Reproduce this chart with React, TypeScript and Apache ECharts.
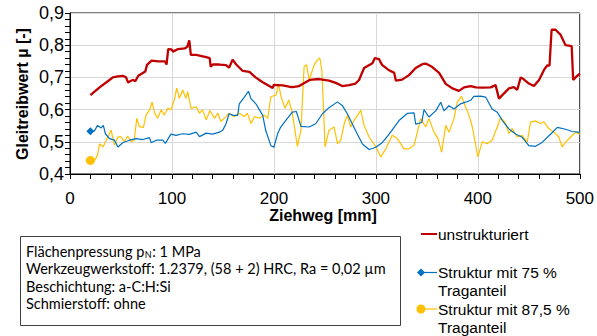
import React, { useEffect, useRef } from "react";
import * as echarts from "echarts";

const X_TICKS = [0, 100, 200, 300, 400, 500];
const Y_TICKS = [0.4, 0.5, 0.6, 0.7, 0.8, 0.9];

const RED_X = [20, 29, 38.7, 42, 47, 51.7, 55, 57, 60, 62, 64, 67, 73.8, 75.5, 80, 86.5, 93, 94.7, 96.3, 99.5, 101, 106, 112.5, 115, 117, 118.5, 123.7, 133.5, 137, 138, 140, 146.5, 153, 156, 159.5, 163, 169.4, 176, 182, 189, 195.5, 198.7, 200, 208.5, 215, 218, 224.7, 235, 244.4, 254, 260.7, 267, 273.7, 280, 283.5, 288.4, 296.6, 299, 303, 306, 313, 318, 319.5, 325.7, 332.5, 339, 345.5, 348.8, 355, 362, 368.5, 375, 381.5, 386.4, 393, 398, 404, 412.5, 417.4, 420.7, 424, 430.5, 435.4, 438.6, 442, 445, 450, 455, 460, 465, 468, 470.3, 472.3, 476.2, 481, 486, 492, 493.5, 495.8, 500];
const RED_Y = [0.645, 0.669, 0.692, 0.7, 0.703, 0.705, 0.7, 0.684, 0.69, 0.692, 0.688, 0.705, 0.718, 0.739, 0.752, 0.75, 0.75, 0.74, 0.788, 0.787, 0.78, 0.788, 0.79, 0.795, 0.815, 0.77, 0.77, 0.763, 0.76, 0.733, 0.74, 0.74, 0.738, 0.73, 0.755, 0.74, 0.72, 0.717, 0.7, 0.685, 0.673, 0.667, 0.677, 0.675, 0.671, 0.67, 0.673, 0.692, 0.695, 0.69, 0.683, 0.673, 0.676, 0.681, 0.692, 0.729, 0.744, 0.76, 0.757, 0.739, 0.722, 0.714, 0.69, 0.693, 0.707, 0.729, 0.741, 0.743, 0.733, 0.714, 0.68, 0.666, 0.658, 0.669, 0.673, 0.669, 0.668, 0.669, 0.676, 0.634, 0.645, 0.666, 0.67, 0.661, 0.7, 0.694, 0.681, 0.673, 0.692, 0.724, 0.737, 0.737, 0.848, 0.848, 0.833, 0.8, 0.797, 0.692, 0.7, 0.712];

const BLUE_X = [20, 24, 27, 30.5, 32.7, 34.7, 38.7, 43.6, 47, 51.7, 58.3, 65, 71.5, 78, 79.6, 84.5, 91, 93.5, 99, 104, 110.5, 117, 123.7, 127, 133.5, 140, 146.5, 150, 153, 156, 160, 164.5, 166, 171, 175, 177.5, 182.3, 189, 192, 197, 200, 203.5, 206.5, 211.5, 218, 222, 226.5, 234.6, 241, 247.6, 254, 262.3, 267, 272, 280, 286.8, 293.3, 300, 306.4, 313, 322.7, 330.8, 337.4, 339, 345, 347.2, 352, 358.7, 363.6, 366.8, 371.7, 376.6, 383, 388, 393, 396, 402.7, 407.6, 414, 419, 424, 430.5, 437, 443.5, 450, 456.6, 463, 473, 478, 486, 492.5, 500];
const BLUE_Y = [0.533, 0.534, 0.551, 0.543, 0.551, 0.525, 0.51, 0.505, 0.484, 0.497, 0.505, 0.51, 0.507, 0.513, 0.497, 0.505, 0.505, 0.495, 0.524, 0.52, 0.525, 0.523, 0.53, 0.516, 0.527, 0.524, 0.53, 0.537, 0.556, 0.587, 0.582, 0.582, 0.618, 0.639, 0.657, 0.634, 0.618, 0.582, 0.535, 0.488, 0.483, 0.524, 0.545, 0.566, 0.592, 0.594, 0.548, 0.546, 0.556, 0.587, 0.606, 0.624, 0.613, 0.587, 0.535, 0.493, 0.476, 0.483, 0.498, 0.524, 0.566, 0.588, 0.59, 0.555, 0.56, 0.6, 0.577, 0.596, 0.623, 0.596, 0.612, 0.602, 0.618, 0.623, 0.629, 0.641, 0.642, 0.639, 0.602, 0.592, 0.566, 0.54, 0.524, 0.514, 0.488, 0.486, 0.498, 0.529, 0.545, 0.539, 0.532, 0.529];

const YEL_X = [20, 24, 27, 29, 32.4, 35.6, 38.7, 40.3, 43.6, 47, 50, 53.4, 56.6, 60, 63, 65.5, 68, 72, 74.6, 78, 80.5, 83, 86, 89.3, 92.6, 96, 99, 102.3, 104.6, 107.3, 110.5, 113.7, 115.4, 118.7, 123.7, 127, 130, 133.5, 137.3, 141.6, 145, 148, 153, 156, 161, 166, 171, 174, 177.5, 180.8, 185.6, 190.5, 193.8, 197, 202, 204.5, 207, 211, 214.5, 218, 223, 226.5, 229.6, 232, 234.6, 239.5, 242.8, 245, 247, 250.2, 254, 259, 262.3, 265.6, 268.9, 272, 275.4, 278.7, 282, 285.2, 288.4, 293.3, 300, 304.8, 309.7, 316, 321, 327.6, 332.5, 337.4, 344, 348.8, 352, 357, 361, 364.5, 368.5, 371.7, 376.6, 379.8, 384, 388, 391.3, 394.6, 397, 400, 404.3, 409.2, 414, 419, 422.3, 426.5, 430.5, 433.7, 438.6, 443.5, 448.4, 451.7, 456.6, 461.5, 464.7, 469.6, 474.5, 479.4, 482.7, 486, 491, 496, 500];
const YEL_Y = [0.442, 0.442, 0.458, 0.494, 0.484, 0.505, 0.526, 0.536, 0.49, 0.515, 0.515, 0.5, 0.518, 0.5, 0.505, 0.573, 0.547, 0.545, 0.583, 0.599, 0.623, 0.589, 0.573, 0.599, 0.583, 0.605, 0.599, 0.63, 0.667, 0.635, 0.661, 0.635, 0.656, 0.604, 0.609, 0.589, 0.599, 0.568, 0.597, 0.573, 0.589, 0.563, 0.578, 0.589, 0.578, 0.589, 0.578, 0.589, 0.557, 0.578, 0.573, 0.583, 0.573, 0.64, 0.645, 0.68, 0.64, 0.604, 0.63, 0.59, 0.486, 0.536, 0.734, 0.739, 0.692, 0.739, 0.755, 0.76, 0.723, 0.484, 0.536, 0.546, 0.494, 0.505, 0.556, 0.582, 0.546, 0.567, 0.582, 0.598, 0.551, 0.515, 0.484, 0.453, 0.478, 0.52, 0.51, 0.478, 0.478, 0.489, 0.572, 0.546, 0.572, 0.53, 0.51, 0.468, 0.551, 0.53, 0.572, 0.623, 0.641, 0.608, 0.582, 0.546, 0.505, 0.453, 0.5, 0.494, 0.505, 0.546, 0.575, 0.562, 0.526, 0.541, 0.515, 0.52, 0.499, 0.561, 0.565, 0.557, 0.562, 0.541, 0.53, 0.515, 0.484, 0.499, 0.515, 0.53, 0.523];

const SERIES_NAMES = ["unstrukturiert", "Struktur mit 75 %\nTraganteil", "Struktur mit 87,5 %\nTraganteil"];
const INFO_FIRST = ["Flächenpressung p", "N", ": 1 MPa"];
const INFO_LINES = ["Werkzeugwerkstoff: 1.2379, (58 + 2) HRC, Ra = 0,02 µm", "Beschichtung: a-C:H:Si", "Schmierstoff: ohne"];

const RED = "#c00000";
const BLUE = "#0070c0";
const YELLOW = "#ffc000";
const ARIAL = "Liberation Sans, Arial, sans-serif";
const BOXFONT = "Lato, sans-serif";

function zip(xs: number[], ys: number[], marker?: { symbol: string; size: number }) {
  return xs.map((x, i) => {
    if (i === 0 && marker) return { value: [x, ys[i]], symbol: marker.symbol, symbolSize: marker.size };
    return { value: [x, ys[i]] };
  });
}

function measure(text: string, font: string) {
  const c = document.createElement("canvas").getContext("2d");
  if (!c) return text.length * 7;
  c.font = font;
  return c.measureText(text).width;
}

export default function App() {
  const ref = useRef<HTMLDivElement>(null);
  useEffect(() => {
    if (!ref.current) return;
    const chart = echarts.init(ref.current, undefined, { renderer: "svg" });
    const boxFs = 14.5;
    const subFs = 9;
    const mainFont = `${boxFs}px ${BOXFONT}`;
    const subFont = `${subFs}px ${BOXFONT}`;
    const w1 = measure(INFO_FIRST[0], mainFont);
    const wSub = measure(INFO_FIRST[1], subFont);
    const tx = 26;
    const ly = [251.5, 268.9, 286.3, 303.7];
    const legFont = `15.5px ${ARIAL}`;

    chart.setOption({
      animation: false,
      grid: { left: 70, right: 16, top: 13, bottom: 162, show: true, borderColor: "#000", borderWidth: 1 },
      xAxis: {
        type: "value", min: X_TICKS[0], max: X_TICKS[X_TICKS.length - 1], interval: 100,
        axisLine: { show: true, lineStyle: { color: "#000", width: 1 } },
        axisTick: { show: true, length: 5, lineStyle: { color: "#000" } },
        minorTick: { show: true, splitNumber: 5, length: 5, lineStyle: { color: "#000" } },
        splitLine: { show: true, lineStyle: { color: "#d9d9d9", width: 1 } },
        axisLabel: { color: "#000", fontSize: 17, fontFamily: ARIAL, margin: 16 },
      },
      yAxis: {
        type: "value", min: Y_TICKS[0], max: Y_TICKS[Y_TICKS.length - 1], interval: 0.1,
        axisLine: { show: true, lineStyle: { color: "#000", width: 1 } },
        axisTick: { show: true, length: 5, lineStyle: { color: "#000" } },
        minorTick: { show: true, splitNumber: 5, length: 5, lineStyle: { color: "#000" } },
        splitLine: { show: true, lineStyle: { color: "#d9d9d9", width: 1 } },
        axisLabel: { color: "#000", fontSize: 18, fontFamily: ARIAL, margin: 6, formatter: (v: number) => v.toFixed(1).replace(".", ",") },
      },
      series: [
        { name: SERIES_NAMES[0], type: "line", symbol: "none", data: zip(RED_X, RED_Y), lineStyle: { color: RED, width: 2.3 }, itemStyle: { color: RED }, z: 3 },
        { name: SERIES_NAMES[1], type: "line", symbol: "none", data: zip(BLUE_X, BLUE_Y, { symbol: "diamond", size: 8 }), lineStyle: { color: BLUE, width: 1.2 }, itemStyle: { color: BLUE }, z: 2 },
        { name: SERIES_NAMES[2], type: "line", symbol: "none", data: zip(YEL_X, YEL_Y, { symbol: "circle", size: 9 }), lineStyle: { color: YELLOW, width: 1.2 }, itemStyle: { color: YELLOW }, z: 1 },
      ],
      graphic: [
        { type: "text", x: 22.5, y: 94, rotation: Math.PI / 2, style: { text: "Gleitreibwert µ [-]", x: 0, y: 0, font: `bold 16px ${ARIAL}`, fill: "#000", align: "center", verticalAlign: "middle" } },
        { type: "text", style: { text: "Ziehweg [mm]", x: 323, y: 215, font: `bold 16px ${ARIAL}`, fill: "#000", align: "center", verticalAlign: "middle" } },
        { type: "rect", shape: { x: 20.5, y: 236.5, width: 380, height: 89 }, style: { fill: "#fff", stroke: "#404040", lineWidth: 1 } },
        { type: "text", style: { text: INFO_FIRST[0], x: tx, y: ly[0], font: mainFont, fill: "#000", verticalAlign: "middle" } },
        { type: "text", style: { text: INFO_FIRST[1], x: tx + w1 + 0.5, y: ly[0] + 3, font: subFont, fill: "#000", verticalAlign: "middle" } },
        { type: "text", style: { text: INFO_FIRST[2], x: tx + w1 + wSub + 1, y: ly[0], font: mainFont, fill: "#000", verticalAlign: "middle" } },
        ...INFO_LINES.map((t, i) => ({ type: "text", style: { text: t, x: tx, y: ly[i + 1], font: mainFont, fill: "#000", verticalAlign: "middle" } })),
        { type: "line", shape: { x1: 421, y1: 234, x2: 437, y2: 234 }, style: { stroke: RED, lineWidth: 2 } },
        { type: "text", style: { text: SERIES_NAMES[0], x: 438, y: 234, font: legFont, fill: "#000", verticalAlign: "middle" } },
        { type: "line", shape: { x1: 418, y1: 272.5, x2: 437, y2: 272.5 }, style: { stroke: BLUE, lineWidth: 1.2 } },
        { type: "polygon", shape: { points: [[421, 268.5], [425, 272.5], [421, 276.5], [417, 272.5]] }, style: { fill: BLUE } },
        { type: "text", style: { text: SERIES_NAMES[1], x: 438, y: 263.5, font: legFont, lineHeight: 18, fill: "#000", verticalAlign: "top" } },
        { type: "line", shape: { x1: 418, y1: 309, x2: 437, y2: 309 }, style: { stroke: YELLOW, lineWidth: 1.2 } },
        { type: "circle", shape: { cx: 421, cy: 309, r: 4.5 }, style: { fill: YELLOW } },
        { type: "text", style: { text: SERIES_NAMES[2], x: 438, y: 300, font: legFont, lineHeight: 18, fill: "#000", verticalAlign: "top" } },
      ],
    });
    return () => chart.dispose();
  }, []);
  return <div ref={ref} style={{ position: "fixed", left: 0, top: 0, width: 597, height: 336, background: "#fff" }} />;
}
